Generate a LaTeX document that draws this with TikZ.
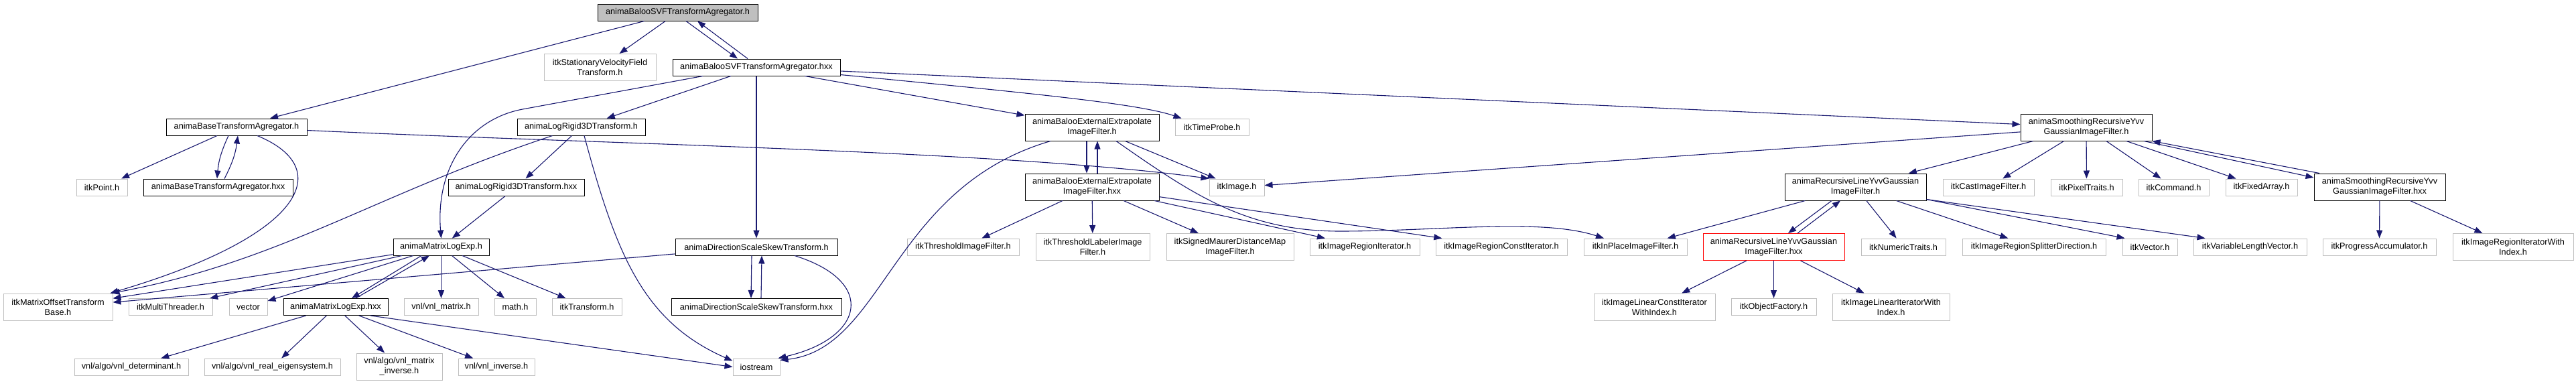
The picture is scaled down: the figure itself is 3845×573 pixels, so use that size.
\documentclass[tikz,border=0pt]{standalone}
\usepackage{fontspec}
\setmainfont{Liberation Sans}
\usepackage{tikz}
\usetikzlibrary{arrows.meta}
\definecolor{edgeblue}{RGB}{25,25,112}
\definecolor{extgray}{RGB}{191,191,191}

\begin{document}
\begin{tikzpicture}[x=1pt, y=-1pt,
  font=\fontsize{12.7}{15}\selectfont,
  hdrbox/.style={draw, rectangle, inner sep=0pt, align=center, line width=1pt, minimum height=25pt},
  twoline/.style={minimum height=40pt},
  docfile/.style={hdrbox, draw=black},
  extfile/.style={hdrbox, draw=extgray},
  rootfile/.style={hdrbox, draw=black, fill=extgray},
  truncfile/.style={hdrbox, draw=red},
  incl/.style={edgeblue, line width=1.1pt, -{Triangle[length=12pt,width=9pt]}}]
  \useasboundingbox (0,0) rectangle (3845,573);

  % the header itself
  \node[rootfile, minimum width=239pt] (svfh) at (1011.5,18.5) {animaBalooSVFTransformAgregator.h};

  % level 1
  \node[extfile, twoline, minimum width=167pt] (svfield) at (895.5,100.5) {itkStationaryVelocityField\\Transform.h};
  \node[docfile, minimum width=250pt] (svfhxx) at (1129,100.5) {animaBalooSVFTransformAgregator.hxx};

  % level 2
  \node[docfile, minimum width=210pt] (baseh) at (353,189.5) {animaBaseTransformAgregator.h};
  \node[docfile, minimum width=191pt] (lrh) at (867.5,189.5) {animaLogRigid3DTransform.h};
  \node[docfile, twoline, minimum width=200pt] (beh) at (1630,190) {animaBalooExternalExtrapolate\\ImageFilter.h};
  \node[extfile, minimum width=110pt] (timeprobe) at (1809,189.5) {itkTimeProbe.h};
  \node[docfile, twoline, minimum width=196pt] (smh) at (3114,190) {animaSmoothingRecursiveYvv\\GaussianImageFilter.h};

  % level 3
  \node[extfile, minimum width=76pt] (point) at (152,279.5) {itkPoint.h};
  \node[docfile, minimum width=223pt] (basehxx) at (325.5,279.5) {animaBaseTransformAgregator.hxx};
  \node[docfile, minimum width=203pt] (lrhxx) at (770.5,279.5) {animaLogRigid3DTransform.hxx};
  \node[docfile, twoline, minimum width=200pt] (behxx) at (1630,279) {animaBalooExternalExtrapolate\\ImageFilter.hxx};
  \node[extfile, minimum width=82pt] (image) at (1846,279.5) {itkImage.h};
  \node[docfile, twoline, minimum width=211pt] (rlh) at (2769.5,279) {animaRecursiveLineYvvGaussian\\ImageFilter.h};
  \node[extfile, minimum width=136pt] (cast) at (2968,279.5) {itkCastImageFilter.h};
  \node[extfile, minimum width=107pt] (pixel) at (3114.5,279.5) {itkPixelTraits.h};
  \node[extfile, minimum width=105pt] (command) at (3244.5,279.5) {itkCommand.h};
  \node[extfile, minimum width=107pt] (fixedarray) at (3375.5,279.5) {itkFixedArray.h};
  \node[docfile, twoline, minimum width=196pt] (smhxx) at (3552,279) {animaSmoothingRecursiveYvv\\GaussianImageFilter.hxx};

  % level 4
  \node[docfile, minimum width=143pt] (mleh) at (658.5,368.5) {animaMatrixLogExp.h};
  \node[docfile, minimum width=242pt] (dssh) at (1129,368.5) {animaDirectionScaleSkewTransform.h};
  \node[extfile, minimum width=167pt] (thresh) at (1437.5,368.5) {itkThresholdImageFilter.h};
  \node[extfile, twoline, minimum width=170pt] (threshlab) at (1631,368.5) {itkThresholdLabelerImage\\Filter.h};
  \node[extfile, twoline, minimum width=190pt] (maurer) at (1836,368.5) {itkSignedMaurerDistanceMap\\ImageFilter.h};
  \node[extfile, minimum width=164pt] (regionit) at (2037,368.5) {itkImageRegionIterator.h};
  \node[extfile, minimum width=196pt] (regionconstit) at (2241,368.5) {itkImageRegionConstIterator.h};
  \node[extfile, minimum width=154pt] (inplace) at (2441,368.5) {itkInPlaceImageFilter.h};
  \node[truncfile, twoline, minimum width=211pt] (rlhxx) at (2647.5,368.5) {animaRecursiveLineYvvGaussian\\ImageFilter.hxx};
  \node[extfile, minimum width=126pt] (numtraits) at (2841,368.5) {itkNumericTraits.h};
  \node[extfile, minimum width=214pt] (splitter) at (3036,368.5) {itkImageRegionSplitterDirection.h};
  \node[extfile, minimum width=82pt] (itkvector) at (3209,368.5) {itkVector.h};
  \node[extfile, minimum width=169pt] (varlen) at (3358.5,368.5) {itkVariableLengthVector.h};
  \node[extfile, minimum width=169pt] (progress) at (3551.5,368.5) {itkProgressAccumulator.h};
  \node[extfile, twoline, minimum width=180pt] (regionitidx) at (3751,368.5) {itkImageRegionIteratorWith\\Index.h};

  % level 5
  \node[extfile, twoline, minimum width=163pt] (matoffset) at (86.5,458) {itkMatrixOffsetTransform\\Base.h};
  \node[extfile, minimum width=125pt] (multithreader) at (254.5,458) {itkMultiThreader.h};
  \node[extfile, minimum width=57pt] (vecstd) at (370.5,458) {vector};
  \node[docfile, minimum width=156pt] (mlehxx) at (501,458) {animaMatrixLogExp.hxx};
  \node[extfile, minimum width=111pt] (vnlmatrix) at (658.5,458) {vnl/vnl\_matrix.h};
  \node[extfile, minimum width=62pt] (mathh) at (769,458) {math.h};
  \node[extfile, minimum width=104pt] (transform) at (876,458) {itkTransform.h};
  \node[docfile, minimum width=254pt] (dsshxx) at (1129,458) {animaDirectionScaleSkewTransform.hxx};
  \node[extfile, twoline, minimum width=181pt] (linconstit) at (2469.5,458) {itkImageLinearConstIterator\\WithIndex.h};
  \node[extfile, minimum width=127pt] (objfactory) at (2647.5,458) {itkObjectFactory.h};
  \node[extfile, twoline, minimum width=175pt] (linit) at (2822.5,458) {itkImageLinearIteratorWith\\Index.h};

  % level 6
  \node[extfile, minimum width=170pt] (determinant) at (196,547.5) {vnl/algo/vnl\_determinant.h};
  \node[extfile, minimum width=203pt] (eigen) at (406.5,547.5) {vnl/algo/vnl\_real\_eigensystem.h};
  \node[extfile, twoline, minimum width=128pt] (matinv) at (596,547) {vnl/algo/vnl\_matrix\\\_inverse.h};
  \node[extfile, minimum width=114pt] (vnlinverse) at (741,547.5) {vnl/vnl\_inverse.h};
  \node[extfile, minimum width=70pt] (iostream) at (1129,547.5) {iostream};

  % includes of the header
  \draw[incl] (svfh) -- (baseh);
  \draw[incl] (svfh) -- (svfield);
  \draw[incl] ([xshift=12.5pt]svfh.south) -- ([xshift=-28pt]svfhxx.north);
  \draw[incl] ([xshift=-13pt]svfhxx.north) -- ([xshift=29.5pt]svfh.south);

  % includes of the hxx
  \draw[incl] (svfhxx) -- (lrh);
  \draw[incl] ([xshift=-80pt]svfhxx.south) -- (780,163) .. controls (700,178) and (650,250) .. (mleh.north);
  \draw[incl] (svfhxx) -- (dssh);
  \draw[incl] (svfhxx) -- (beh);
  \draw[incl] ([yshift=-11pt]svfhxx.east) .. controls (1550,140) and (1700,155) .. ([xshift=10pt]timeprobe.north west);
  \draw[incl] (svfhxx) -- (smh);

  % base transform agregator
  \draw[incl] (baseh) -- (point);
  \draw[incl] ([xshift=-12pt]baseh.south) to[bend right=10] ([xshift=-1.5pt]basehxx.north);
  \draw[incl] ([xshift=9.5pt]basehxx.north) to[bend right=10] ([xshift=2pt]baseh.south);
  \draw[incl] ([xshift=31pt]baseh.south) .. controls (500,250) and (460,350) .. ([xshift=-4pt]matoffset.north east);
  \draw[incl] ([yshift=-5pt]baseh.east) .. controls (900,215) and (1500,225) .. (image.north west);

  % log rigid 3D
  \draw[incl] (lrh) -- (lrhxx);
  \draw[incl] ([xshift=-43pt]lrh.south) .. controls (560,290) and (420,390) .. ([xshift=-2pt]matoffset.north east);
  \draw[incl] ([xshift=4.5pt]lrh.south) .. controls (920,380) and (960,480) .. ([yshift=-4pt]iostream.north west);
  \draw[incl] (lrhxx) -- (mleh);

  % matrix log exp
  \draw[incl] (mleh) -- (matoffset);
  \draw[incl] (mleh) -- (multithreader);
  \draw[incl] (mleh) -- (vecstd);
  \draw[incl] ([xshift=-29.5pt]mleh.south) -- ([xshift=24pt]mlehxx.north);
  \draw[incl] ([xshift=30pt]mlehxx.north) -- ([xshift=-17.5pt]mleh.south);
  \draw[incl] (mleh) -- (vnlmatrix);
  \draw[incl] (mleh) -- (mathh);
  \draw[incl] (mleh) -- (transform);
  \draw[incl] (mlehxx) -- (determinant);
  \draw[incl] (mlehxx) -- (eigen);
  \draw[incl] (mlehxx) -- (matinv);
  \draw[incl] (mlehxx) -- (vnlinverse);
  \draw[incl] ([xshift=52pt]mlehxx.south) -- (iostream.west);

  % direction scale skew
  \draw[incl] (dssh) -- (matoffset);
  \draw[incl] ([xshift=-7pt]dssh.south) -- ([xshift=-8pt]dsshxx.north);
  \draw[incl] ([xshift=7pt]dsshxx.north) -- ([xshift=8pt]dssh.south);
  \draw[incl] ([xshift=57pt]dssh.south) .. controls (1310,420) and (1290,505) .. ([xshift=-3pt]iostream.north east);

  % external extrapolate filter
  \draw[incl] ([xshift=-8pt]beh.south) -- ([xshift=-8pt]behxx.north);
  \draw[incl] ([xshift=8pt]behxx.north) -- ([xshift=8pt]beh.south);
  \draw[incl] (beh) -- (image);
  \draw[incl] ([xshift=-62pt]beh.south) .. controls (1330,280) and (1320,520) .. ([yshift=-3pt]iostream.north east);
  \draw[incl] ([xshift=36pt]beh.south) .. controls (1780,290) and (1860,345) .. (2000,345) .. controls (2150,345) and (2300,325) .. ([xshift=-47pt]inplace.north);
  \draw[incl] (behxx) -- (thresh);
  \draw[incl] (behxx) -- (threshlab);
  \draw[incl] (behxx) -- (maurer);
  \draw[incl] (behxx) -- (regionit);
  \draw[incl] (behxx) -- (regionconstit);

  % smoothing filter
  \draw[incl] (smh) -- (image);
  \draw[incl] (smh) -- (rlh);
  \draw[incl] (smh) -- (cast);
  \draw[incl] (smh) -- (pixel);
  \draw[incl] (smh) -- (command);
  \draw[incl] (smh) -- (fixedarray);
  \draw[incl] ([xshift=86pt]smh.south) -- ([yshift=14pt]smhxx.west);
  \draw[incl] ([xshift=-90pt]smhxx.north) -- (smh.south east);
  \draw[incl] (smhxx) -- (progress);
  \draw[incl] (smhxx) -- (regionitidx);

  % recursive line filter
  \draw[incl] ([xshift=-35.5pt]rlh.south) -- ([xshift=21.5pt]rlhxx.north);
  \draw[incl] ([xshift=35.5pt]rlhxx.north) -- ([xshift=-22.5pt]rlh.south);
  \draw[incl] (rlh) -- (inplace);
  \draw[incl] (rlh) -- (numtraits);
  \draw[incl] (rlh) -- (splitter);
  \draw[incl] ([yshift=-18.5pt]rlh.east) -- ([xshift=4pt]itkvector.north west);
  \draw[incl] ([yshift=-18.5pt]rlh.east) -- ([xshift=18pt]varlen.north west);
  \draw[incl] (rlhxx) -- (linconstit);
  \draw[incl] (rlhxx) -- (objfactory);
  \draw[incl] (rlhxx) -- (linit);
\end{tikzpicture}
\end{document}
